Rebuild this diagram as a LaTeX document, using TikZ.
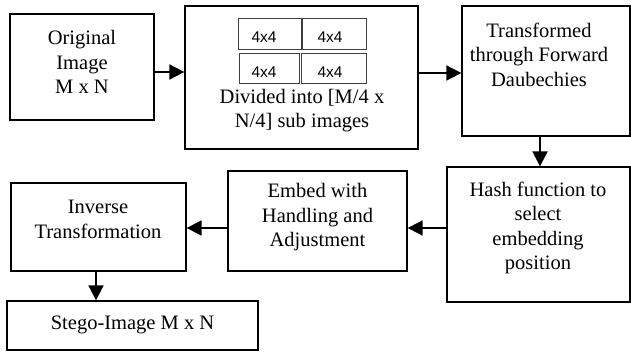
\documentclass[tikz,border=0pt]{standalone}
\usepackage{fontspec}
\setmainfont{Liberation Serif}
\newfontfamily\subfont{Liberation Sans}
\usetikzlibrary{arrows.meta,positioning}
\begin{document}
\begin{tikzpicture}[x=1pt,y=-1pt,
  box/.style={draw=black,line width=1.3pt,rectangle,inner sep=0pt},
  subbox/.style={draw=black!75,line width=0.9pt,rectangle,inner sep=0pt},
  txt/.style={align=center,inner sep=0pt,font=\fontsize{20.5}{24.5}\selectfont},
  subtxt/.style={inner sep=0pt,font=\subfont\fontsize{15.5}{17}\selectfont},
  arr/.style={line width=1.8pt,-{Triangle[length=15pt,width=15pt]}}]
\useasboundingbox (0,0) rectangle (631,352);
% main boxes
\node[box,minimum width=144pt,minimum height=106pt] (b1) at (82,67) {};
\node[box,minimum width=233pt,minimum height=143pt] (b2) at (301.5,77.5) {};
\node[box,minimum width=168pt,minimum height=130pt] (b3) at (546,71) {};
\node[box,minimum width=183pt,minimum height=135pt] (b4) at (538.5,234.5) {};
\node[box,minimum width=179pt,minimum height=100pt] (emb) at (317.5,221) {};
\node[box,minimum width=175pt,minimum height=88pt] (inv) at (98.5,227) {};
\node[box,minimum width=251pt,minimum height=49pt] (stego) at (132.5,325.5) {};
% sub image boxes
\node[subbox,minimum width=63pt,minimum height=31pt] (s1) at (269.5,33.5) {};
\node[subbox,minimum width=64pt,minimum height=31pt] (s2) at (334,33.5) {};
\node[subbox,minimum width=60pt,minimum height=30pt] (s3) at (269,68) {};
\node[subbox,minimum width=65pt,minimum height=30pt] (s4) at (333.5,68) {};
\node[subtxt] (t1) at (264,37.5) {4x4};
\node[subtxt] (t2) at (330,37.5) {4x4};
\node[subtxt] (t3) at (264,72) {4x4};
\node[subtxt] (t4) at (330,72) {4x4};
% texts
\node[txt] (l1) at (82,62) {Original\\Image\\M x N};
\node[txt] (l2) at (302,110.5) {Divided into [M/4 x\\N/4] sub images};
\node[txt] (l3) at (539,54.5) {Transformed\\through Forward\\Daubechies};
\node[txt] (l4) at (538,228) {Hash function to\\select\\embedding\\position};
\node[txt] (l5) at (317.5,217.5) {Embed with\\Handling and\\Adjustment};
\node[txt] (l6) at (98,219.5) {Inverse\\Transformation};
\node[txt] (l7) at (132.5,325) {Stego-Image M x N};
% connectors
\coordinate (p1) at ([yshift=-5pt]b1.east);
\draw[arr] (p1) -- (p1 -| b2.west);
\coordinate (p2) at ([yshift=4.5pt]b2.east);
\draw[arr] (p2) -- (p2 -| b3.west);
\coordinate (p3) at ([xshift=-6pt]b3.south);
\draw[arr] (p3) -- (p3 |- b4.north);
\coordinate (p4) at ([yshift=6.5pt]b4.west);
\draw[arr] (p4) -- (p4 -| emb.east);
\coordinate (p5) at ([yshift=-7pt]emb.west);
\draw[arr] (p5) -- (p5 -| inv.east);
\coordinate (p6) at ([xshift=-2.5pt]inv.south);
\draw[arr] (p6) -- (p6 |- stego.north);
\end{tikzpicture}
\end{document}
